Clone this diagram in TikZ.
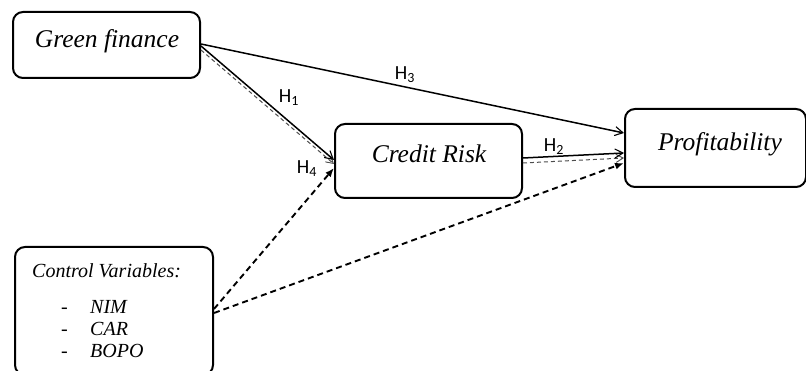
\documentclass[tikz,border=0pt]{standalone}
\usepackage{fontspec}
\setmainfont{Liberation Serif}
\newfontfamily\lblfont{Carlito}
\usetikzlibrary{arrows.meta,calc}
\begin{document}
\begin{tikzpicture}[x=1pt,y=-1pt,
  box/.style={draw=black, line width=2pt, rounded corners=10pt, fill=white, inner sep=0pt},
  solidarr/.style={line width=1.5pt, -{Straight Barb[length=8pt,width=9pt,line width=1.1pt]}},
  thindash/.style={line width=1pt, draw=black!70, dash pattern=on 4pt off 3pt, -{Straight Barb[length=7pt,width=8pt,line width=0.9pt]}},
  thickdash/.style={line width=1.9pt, dash pattern=on 6pt off 4pt, -{Latex[length=9pt,width=7pt]}},
  lbl/.style={font=\lblfont\fontsize{20pt}{22pt}\selectfont, inner sep=0pt},
  main/.style={font=\itshape\fontsize{25.5pt}{28pt}\selectfont}]
\useasboundingbox (0,0) rectangle (806,371);
\begin{scope}
\clip (0,0) rectangle (806,371);
% boxes
\node[box, minimum width=187pt, minimum height=66pt] (gf) at (106.5,45) {};
\node[box, minimum width=187pt, minimum height=74pt] (cr) at (428.5,161) {};
\node[box, minimum width=181pt, minimum height=78pt] (pf) at (715.5,148) {};
\node[box, minimum width=198pt, minimum height=128pt] (ctrl) at (114,311) {};
\end{scope}
% texts
\node[main, anchor=base] at (107,48) {Green finance};
\node[main, anchor=base] at (429,163) {Credit Risk};
\node[main, anchor=base] at (720,151) {Profitability};
\begin{scope}[every node/.style={font=\itshape\fontsize{20pt}{22pt}\selectfont, anchor=base west, inner sep=0pt}]
\node at (32,278) {Control Variables:};
\node at (61,314) {-};
\node at (90,314) {NIM};
\node at (61,335) {-};
\node at (90,335) {CAR};
\node at (61,357) {-};
\node at (90,357) {BOPO};
\end{scope}
% connectors
\draw[solidarr] ([yshift=1pt]gf.east) -- ([yshift=15pt]pf.west);
\draw[thindash] ([yshift=-5pt]gf.east) -- ([yshift=-3pt]cr.west);
\draw[solidarr] ([yshift=-1pt]gf.east) -- ([yshift=1pt]cr.west);
\draw[thickdash] ([yshift=2pt]ctrl.east) -- ([yshift=-7pt]cr.west);
\draw[thindash] ([yshift=-2pt]cr.east) -- ([yshift=-10pt]pf.west);
\draw[solidarr] ([yshift=3pt]cr.east) -- ([yshift=-5pt]pf.west);
\draw[thickdash] ([yshift=-2pt]ctrl.east) -- ([yshift=-15pt]pf.west);
% labels
\node[lbl] at (405,75) {H\textsubscript{3}};
\node[lbl] at (289,98) {H\textsubscript{1}};
\node[lbl] at (554,147) {H\textsubscript{2}};
\node[lbl] at (307,169) {H\textsubscript{4}};
\end{tikzpicture}
\end{document}
